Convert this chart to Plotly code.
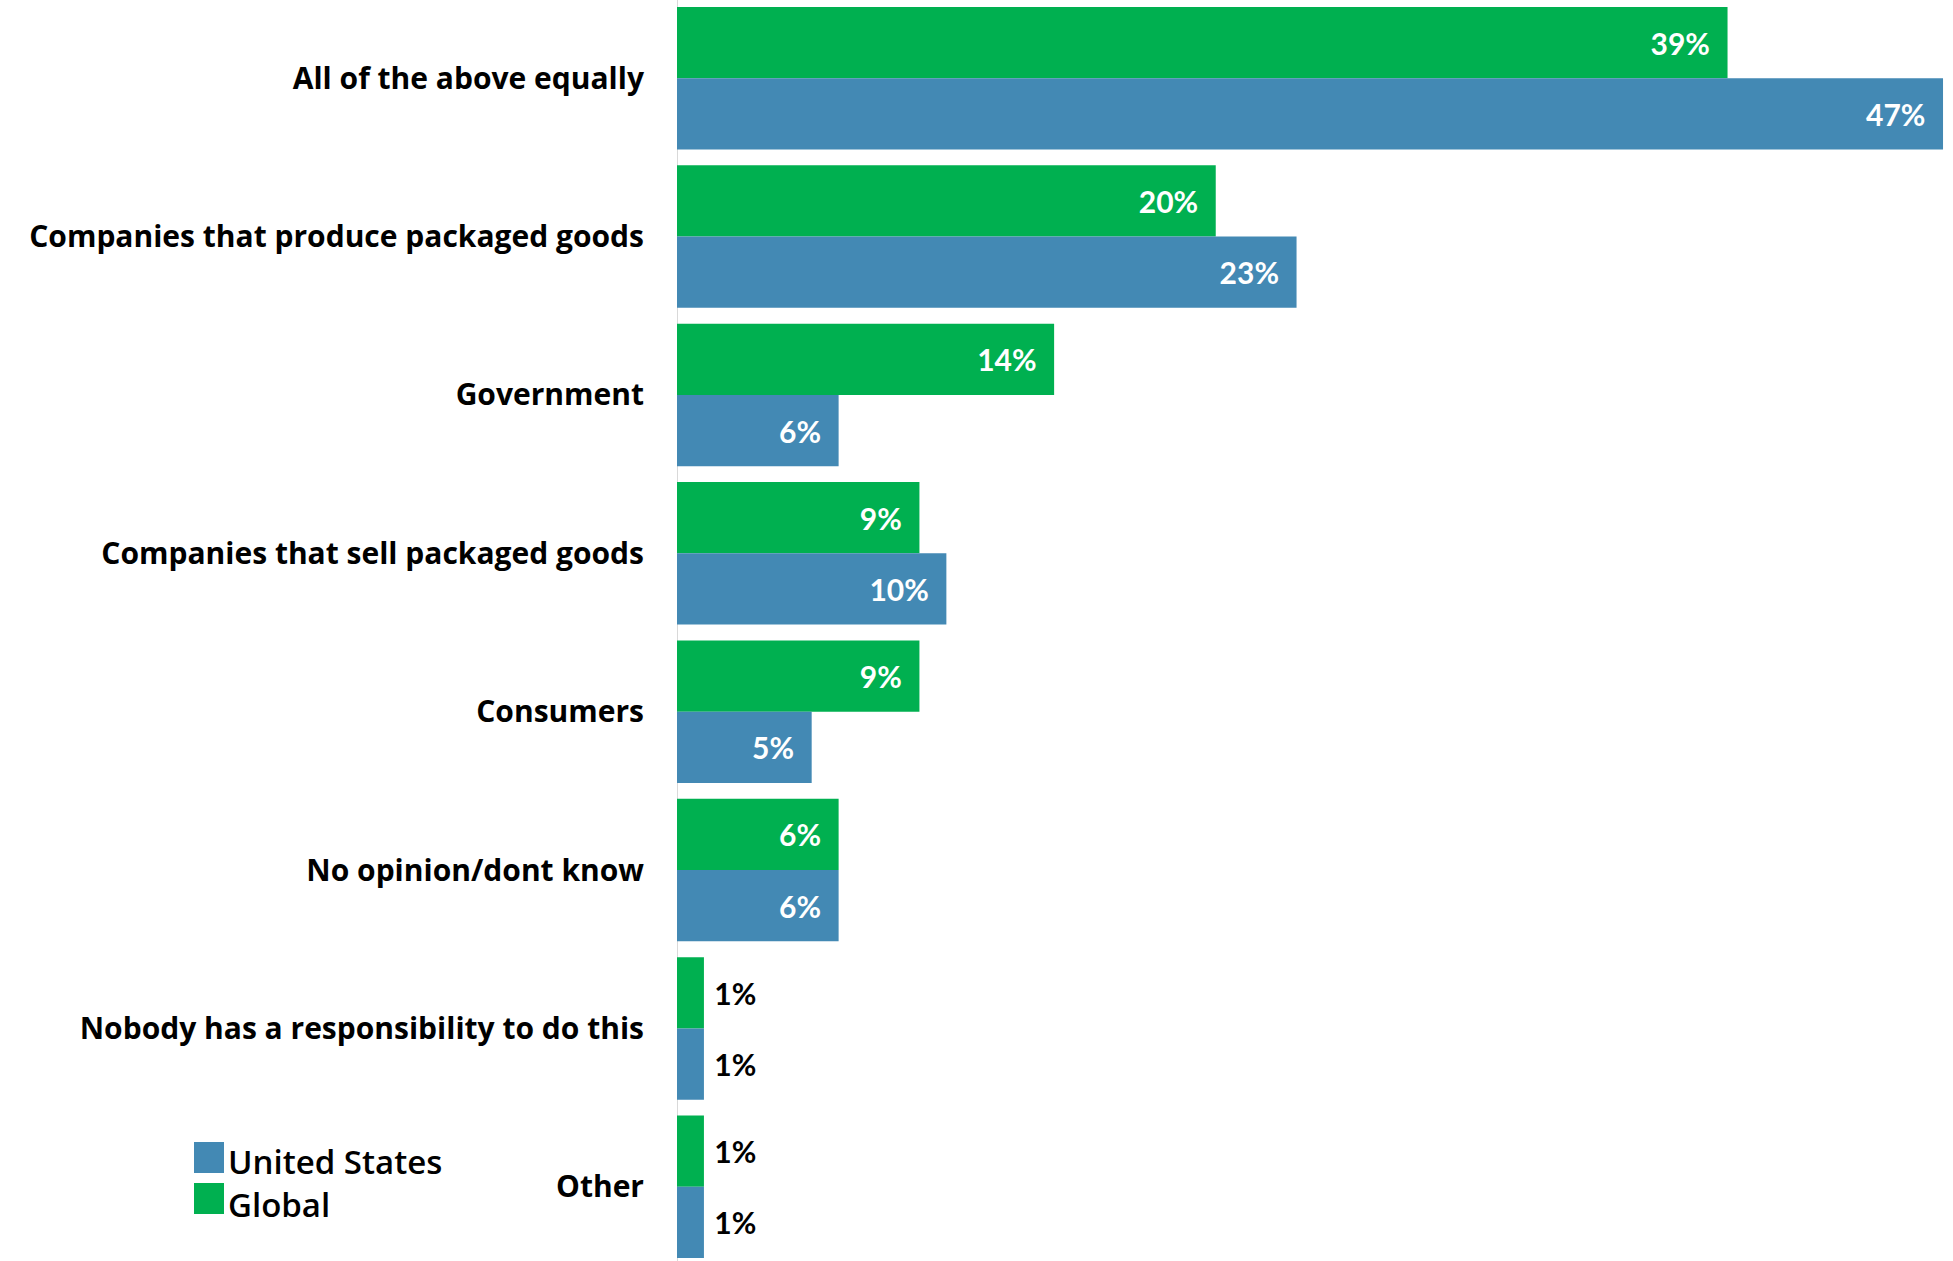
import plotly.graph_objects as go

categories = [
    "All of the above equally",
    "Companies that produce packaged goods",
    "Government",
    "Companies that sell packaged goods",
    "Consumers",
    "No opinion/dont know",
    "Nobody has a responsibility to do this",
    "Other",
]
global_vals = [39, 20, 14, 9, 9, 6, 1, 1]
us_vals = [47, 23, 6, 10, 5, 6, 1, 1]
legend_names = ["United States", "Global"]

GREEN = "#00B050"
BLUE = "#4389B4"
NB = "\u00a0"


def texts(vals):
    out = []
    for v in vals:
        if v >= 3:
            out.append(f"{v}%" + NB * 2)
        else:
            out.append(NB + f"{v}%")
    return out


def positions(vals):
    return ["inside" if v >= 3 else "outside" for v in vals]


def colors(vals):
    return ["white" if v >= 3 else "black" for v in vals]


fig = go.Figure()
for name, vals, col in [("Global", global_vals, GREEN), ("United States", us_vals, BLUE)]:
    fig.add_trace(go.Bar(
        y=categories, x=vals, orientation="h", name=name,
        marker=dict(color=col, line=dict(width=0)),
        text=texts(vals), textposition=positions(vals),
        insidetextanchor="end",
        textfont=dict(family="Lato", size=30, weight=700, color=colors(vals)),
        cliponaxis=False, showlegend=False,
    ))

fig.update_layout(
    width=1953, height=1261,
    margin=dict(l=677, r=0, t=7, b=3),
    paper_bgcolor="white", plot_bgcolor="white",
    barmode="group", bargap=0.1, bargroupgap=0,
    xaxis=dict(range=[0, 47.37], visible=False, showgrid=False, zeroline=False),
    yaxis=dict(range=[7.45, -0.45], showgrid=False, zeroline=False, showline=False,
               ticks="", ticklabelstandoff=32,
               tickfont=dict(family="Open Sans", size=30, weight=700, color="black")),
    uniformtext=dict(mode=False),
)

# vertical axis line
fig.add_shape(type="line", xref="x", yref="paper", x0=0, x1=0, y0=-0.003, y1=1.006,
              line=dict(color="#d9d9d9", width=2), layer="below")

# legend (drawn manually to match large swatches)
for i, col in enumerate([BLUE, GREEN]):
    top = 1142 + i * 41
    fig.add_shape(type="rect", xref="paper", yref="paper",
                  x0=(194 - 677) / 1276, x1=(224 - 677) / 1276,
                  y0=(1258 - (top + 31)) / 1251, y1=(1258 - top) / 1251,
                  line=dict(width=0), fillcolor=col)
fig.add_annotation(xref="paper", yref="paper", x=(226 - 677) / 1276,
                   y=(1258 - 1183) / 1251, text="<br>".join(legend_names),
                   showarrow=False, xanchor="left", yanchor="middle", align="left",
                   font=dict(family="Open Sans", size=33, weight=600, color="black"))

fig.write_html(
    "out.html",
    config={"displayModeBar": False},
    post_script="document.body.style.margin='0';document.body.style.overflow='hidden';",
)
